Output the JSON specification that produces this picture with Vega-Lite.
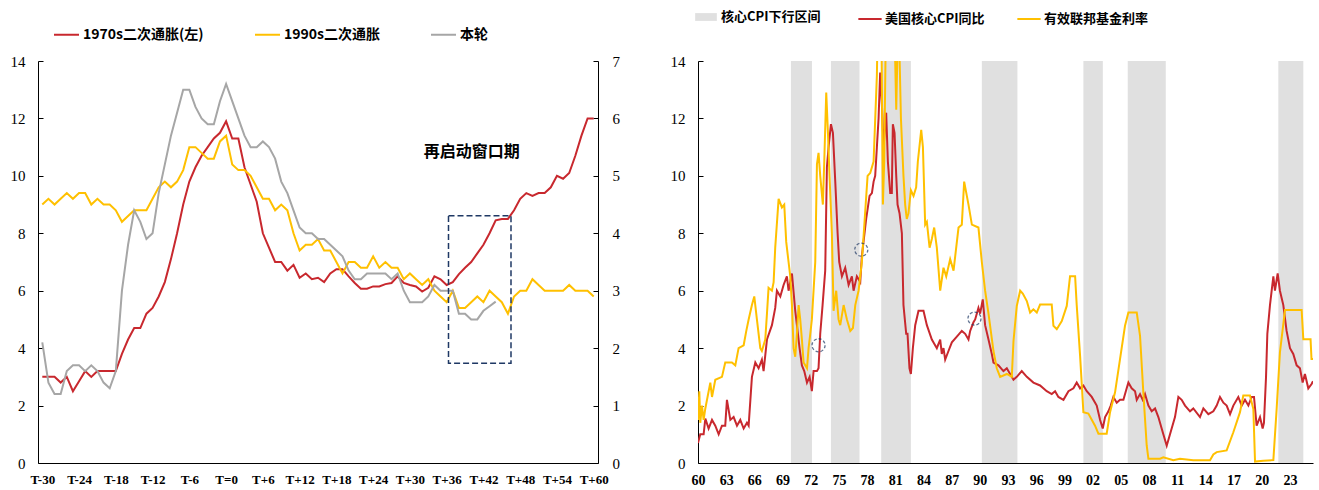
{
  "$schema": "https://vega.github.io/schema/vega-lite/v6.json",
  "background": "white",
  "padding": {"left": 10, "top": 6, "right": 6, "bottom": 2},
  "spacing": 100,
  "bounds": "flush",
  "datasets": {
    "red70": [
      {"t":-30,"v":3.0},{"t":-29,"v":3.0},{"t":-28,"v":3.0},{"t":-27,"v":2.8},{"t":-26,"v":3.0},{"t":-25,"v":2.5},{"t":-24,"v":2.85},{"t":-23,"v":3.2},{"t":-22,"v":3.0},{"t":-21,"v":3.2},
      {"t":-20,"v":3.2},{"t":-19,"v":3.2},{"t":-18,"v":3.2},{"t":-17,"v":3.8},{"t":-16,"v":4.3},{"t":-15,"v":4.7},{"t":-14,"v":4.7},{"t":-13,"v":5.2},{"t":-12,"v":5.4},{"t":-11,"v":5.8},
      {"t":-10,"v":6.3},{"t":-9,"v":7.1},{"t":-8,"v":8.0},{"t":-7,"v":9.0},{"t":-6,"v":9.8},{"t":-5,"v":10.3},{"t":-4,"v":10.7},{"t":-3,"v":11.0},{"t":-2,"v":11.3},{"t":-1,"v":11.5},
      {"t":0,"v":11.9},{"t":1,"v":11.3},{"t":2,"v":11.3},{"t":3,"v":10.3},{"t":4,"v":9.7},{"t":5,"v":9.1},{"t":6,"v":8.0},{"t":7,"v":7.5},{"t":8,"v":7.0},{"t":9,"v":7.0},
      {"t":10,"v":6.7},{"t":11,"v":6.9},{"t":12,"v":6.45},{"t":13,"v":6.6},{"t":14,"v":6.4},{"t":15,"v":6.45},{"t":16,"v":6.3},{"t":17,"v":6.6},{"t":18,"v":6.75},{"t":19,"v":6.75},
      {"t":20,"v":6.5},{"t":21,"v":6.27},{"t":22,"v":6.07},{"t":23,"v":6.07},{"t":24,"v":6.15},{"t":25,"v":6.15},{"t":26,"v":6.23},{"t":27,"v":6.27},{"t":28,"v":6.5},{"t":29,"v":6.27},
      {"t":30,"v":6.2},{"t":31,"v":6.15},{"t":32,"v":5.97},{"t":33,"v":6.1},{"t":34,"v":6.5},{"t":35,"v":6.4},{"t":36,"v":6.2},{"t":37,"v":6.3},{"t":38,"v":6.58},{"t":39,"v":6.8},
      {"t":40,"v":7.0},{"t":41,"v":7.3},{"t":42,"v":7.6},{"t":43,"v":8.0},{"t":44,"v":8.45},{"t":45,"v":8.5},{"t":46,"v":8.5},{"t":47,"v":8.8},{"t":48,"v":9.2},{"t":49,"v":9.4},
      {"t":50,"v":9.3},{"t":51,"v":9.4},{"t":52,"v":9.4},{"t":53,"v":9.6},{"t":54,"v":10.0},{"t":55,"v":9.9},{"t":56,"v":10.1},{"t":57,"v":10.7},{"t":58,"v":11.4},{"t":59,"v":12.0},{"t":60,"v":12.0}
    ],
    "rightAxis": [
      {"s":"1990s二次通胀","t":-30,"v":4.5},{"s":"1990s二次通胀","t":-29,"v":4.6},{"s":"1990s二次通胀","t":-28,"v":4.5},{"s":"1990s二次通胀","t":-27,"v":4.6},{"s":"1990s二次通胀","t":-26,"v":4.7},
      {"s":"1990s二次通胀","t":-25,"v":4.6},{"s":"1990s二次通胀","t":-24,"v":4.7},{"s":"1990s二次通胀","t":-23,"v":4.7},{"s":"1990s二次通胀","t":-22,"v":4.5},{"s":"1990s二次通胀","t":-21,"v":4.6},
      {"s":"1990s二次通胀","t":-20,"v":4.5},{"s":"1990s二次通胀","t":-19,"v":4.5},{"s":"1990s二次通胀","t":-18,"v":4.4},{"s":"1990s二次通胀","t":-17,"v":4.2},{"s":"1990s二次通胀","t":-16,"v":4.3},
      {"s":"1990s二次通胀","t":-15,"v":4.4},{"s":"1990s二次通胀","t":-14,"v":4.4},{"s":"1990s二次通胀","t":-13,"v":4.4},{"s":"1990s二次通胀","t":-12,"v":4.6},{"s":"1990s二次通胀","t":-11,"v":4.8},
      {"s":"1990s二次通胀","t":-10,"v":4.9},{"s":"1990s二次通胀","t":-9,"v":4.8},{"s":"1990s二次通胀","t":-8,"v":4.9},{"s":"1990s二次通胀","t":-7,"v":5.1},{"s":"1990s二次通胀","t":-6,"v":5.5},
      {"s":"1990s二次通胀","t":-5,"v":5.5},{"s":"1990s二次通胀","t":-4,"v":5.4},{"s":"1990s二次通胀","t":-3,"v":5.3},{"s":"1990s二次通胀","t":-2,"v":5.3},{"s":"1990s二次通胀","t":-1,"v":5.6},
      {"s":"1990s二次通胀","t":0,"v":5.7},{"s":"1990s二次通胀","t":1,"v":5.2},{"s":"1990s二次通胀","t":2,"v":5.1},{"s":"1990s二次通胀","t":3,"v":5.1},{"s":"1990s二次通胀","t":4,"v":5.0},
      {"s":"1990s二次通胀","t":5,"v":4.8},{"s":"1990s二次通胀","t":6,"v":4.6},{"s":"1990s二次通胀","t":7,"v":4.6},{"s":"1990s二次通胀","t":8,"v":4.4},{"s":"1990s二次通胀","t":9,"v":4.5},
      {"s":"1990s二次通胀","t":10,"v":4.4},{"s":"1990s二次通胀","t":11,"v":4.0},{"s":"1990s二次通胀","t":12,"v":3.7},{"s":"1990s二次通胀","t":13,"v":3.8},{"s":"1990s二次通胀","t":14,"v":3.8},
      {"s":"1990s二次通胀","t":15,"v":3.9},{"s":"1990s二次通胀","t":16,"v":3.7},{"s":"1990s二次通胀","t":17,"v":3.7},{"s":"1990s二次通胀","t":18,"v":3.5},{"s":"1990s二次通胀","t":19,"v":3.3},
      {"s":"1990s二次通胀","t":20,"v":3.5},{"s":"1990s二次通胀","t":21,"v":3.5},{"s":"1990s二次通胀","t":22,"v":3.4},{"s":"1990s二次通胀","t":23,"v":3.4},{"s":"1990s二次通胀","t":24,"v":3.6},
      {"s":"1990s二次通胀","t":25,"v":3.4},{"s":"1990s二次通胀","t":26,"v":3.5},{"s":"1990s二次通胀","t":27,"v":3.4},{"s":"1990s二次通胀","t":28,"v":3.4},{"s":"1990s二次通胀","t":29,"v":3.2},
      {"s":"1990s二次通胀","t":30,"v":3.3},{"s":"1990s二次通胀","t":31,"v":3.2},{"s":"1990s二次通胀","t":32,"v":3.1},{"s":"1990s二次通胀","t":33,"v":3.2},{"s":"1990s二次通胀","t":34,"v":3.0},
      {"s":"1990s二次通胀","t":35,"v":2.9},{"s":"1990s二次通胀","t":36,"v":2.8},{"s":"1990s二次通胀","t":37,"v":3.0},{"s":"1990s二次通胀","t":38,"v":2.7},{"s":"1990s二次通胀","t":39,"v":2.7},
      {"s":"1990s二次通胀","t":40,"v":2.8},{"s":"1990s二次通胀","t":41,"v":2.9},{"s":"1990s二次通胀","t":42,"v":2.8},{"s":"1990s二次通胀","t":43,"v":3.0},{"s":"1990s二次通胀","t":44,"v":2.9},
      {"s":"1990s二次通胀","t":45,"v":2.8},{"s":"1990s二次通胀","t":46,"v":2.6},{"s":"1990s二次通胀","t":47,"v":2.9},{"s":"1990s二次通胀","t":48,"v":3.0},{"s":"1990s二次通胀","t":49,"v":3.0},
      {"s":"1990s二次通胀","t":50,"v":3.2},{"s":"1990s二次通胀","t":51,"v":3.1},{"s":"1990s二次通胀","t":52,"v":3.0},{"s":"1990s二次通胀","t":53,"v":3.0},{"s":"1990s二次通胀","t":54,"v":3.0},
      {"s":"1990s二次通胀","t":55,"v":3.0},{"s":"1990s二次通胀","t":56,"v":3.1},{"s":"1990s二次通胀","t":57,"v":3.0},{"s":"1990s二次通胀","t":58,"v":3.0},{"s":"1990s二次通胀","t":59,"v":3.0},
      {"s":"1990s二次通胀","t":60,"v":2.9},
      {"s":"本轮","t":-30,"v":2.1},{"s":"本轮","t":-29,"v":1.4},{"s":"本轮","t":-28,"v":1.2},{"s":"本轮","t":-27,"v":1.2},{"s":"本轮","t":-26,"v":1.6},
      {"s":"本轮","t":-25,"v":1.7},{"s":"本轮","t":-24,"v":1.7},{"s":"本轮","t":-23,"v":1.6},{"s":"本轮","t":-22,"v":1.7},{"s":"本轮","t":-21,"v":1.6},
      {"s":"本轮","t":-20,"v":1.4},{"s":"本轮","t":-19,"v":1.3},{"s":"本轮","t":-18,"v":1.6},{"s":"本轮","t":-17,"v":3.0},{"s":"本轮","t":-16,"v":3.8},
      {"s":"本轮","t":-15,"v":4.4},{"s":"本轮","t":-14,"v":4.2},{"s":"本轮","t":-13,"v":3.9},{"s":"本轮","t":-12,"v":4.0},{"s":"本轮","t":-11,"v":4.7},
      {"s":"本轮","t":-10,"v":5.2},{"s":"本轮","t":-9,"v":5.7},{"s":"本轮","t":-8,"v":6.1},{"s":"本轮","t":-7,"v":6.5},{"s":"本轮","t":-6,"v":6.5},
      {"s":"本轮","t":-5,"v":6.2},{"s":"本轮","t":-4,"v":6.0},{"s":"本轮","t":-3,"v":5.9},{"s":"本轮","t":-2,"v":5.9},{"s":"本轮","t":-1,"v":6.3},
      {"s":"本轮","t":0,"v":6.6},{"s":"本轮","t":1,"v":6.3},{"s":"本轮","t":2,"v":6.0},{"s":"本轮","t":3,"v":5.7},{"s":"本轮","t":4,"v":5.5},
      {"s":"本轮","t":5,"v":5.5},{"s":"本轮","t":6,"v":5.6},{"s":"本轮","t":7,"v":5.5},{"s":"本轮","t":8,"v":5.3},{"s":"本轮","t":9,"v":4.9},
      {"s":"本轮","t":10,"v":4.7},{"s":"本轮","t":11,"v":4.4},{"s":"本轮","t":12,"v":4.1},{"s":"本轮","t":13,"v":4.0},{"s":"本轮","t":14,"v":4.0},
      {"s":"本轮","t":15,"v":3.9},{"s":"本轮","t":16,"v":3.9},{"s":"本轮","t":17,"v":3.8},{"s":"本轮","t":18,"v":3.7},{"s":"本轮","t":19,"v":3.6},
      {"s":"本轮","t":20,"v":3.35},{"s":"本轮","t":21,"v":3.2},{"s":"本轮","t":22,"v":3.2},{"s":"本轮","t":23,"v":3.3},{"s":"本轮","t":24,"v":3.3},
      {"s":"本轮","t":25,"v":3.3},{"s":"本轮","t":26,"v":3.3},{"s":"本轮","t":27,"v":3.2},{"s":"本轮","t":28,"v":3.3},{"s":"本轮","t":29,"v":3.0},
      {"s":"本轮","t":30,"v":2.8},{"s":"本轮","t":31,"v":2.8},{"s":"本轮","t":32,"v":2.8},{"s":"本轮","t":33,"v":2.9},{"s":"本轮","t":34,"v":3.1},
      {"s":"本轮","t":35,"v":3.0},{"s":"本轮","t":36,"v":3.0},{"s":"本轮","t":37,"v":3.0},{"s":"本轮","t":38,"v":2.6},{"s":"本轮","t":39,"v":2.6},
      {"s":"本轮","t":40,"v":2.5},{"s":"本轮","t":41,"v":2.5},{"s":"本轮","t":42,"v":2.65},{"s":"本轮","t":43,"v":2.73},{"s":"本轮","t":44,"v":2.81}
    ],
    "cpi": [
      {"t":1960.0,"v":0.7},{"t":1960.24,"v":1.0},{"t":1960.6,"v":1.0},{"t":1960.78,"v":1.55},{"t":1961.13,"v":1.2},{"t":1961.49,"v":1.5},{"t":1961.84,"v":1.3},{"t":1962.2,"v":1.0},{"t":1962.55,"v":1.3},{"t":1962.9,"v":1.3},
      {"t":1963.08,"v":2.2},{"t":1963.44,"v":1.5},{"t":1963.79,"v":1.6},{"t":1964.15,"v":1.3},{"t":1964.5,"v":1.5},{"t":1964.86,"v":1.2},{"t":1965.21,"v":1.4},{"t":1965.39,"v":1.3},{"t":1965.74,"v":3.0},{"t":1966.1,"v":3.5},
      {"t":1966.45,"v":3.3},{"t":1966.8,"v":3.6},{"t":1966.98,"v":3.2},{"t":1967.34,"v":4.3},{"t":1967.87,"v":4.8},{"t":1968.22,"v":5.4},{"t":1968.4,"v":6.0},{"t":1968.76,"v":5.8},{"t":1969.11,"v":6.2},{"t":1969.46,"v":6.5},
      {"t":1969.64,"v":6.0},{"t":1970.0,"v":6.6},{"t":1970.35,"v":5.3},{"t":1970.53,"v":4.8},{"t":1970.81,"v":4.0},{"t":1971.06,"v":3.4},{"t":1971.31,"v":3.2},{"t":1971.6,"v":2.8},{"t":1971.88,"v":3.0},{"t":1972.12,"v":2.5},
      {"t":1972.3,"v":3.2},{"t":1972.66,"v":3.2},{"t":1972.83,"v":3.3},{"t":1973.01,"v":4.5},{"t":1973.26,"v":5.5},{"t":1973.54,"v":6.7},{"t":1973.72,"v":10.3},{"t":1973.9,"v":11.0},{"t":1974.15,"v":11.8},{"t":1974.36,"v":11.5},
      {"t":1974.61,"v":9.8},{"t":1974.86,"v":8.0},{"t":1975.03,"v":7.0},{"t":1975.32,"v":6.5},{"t":1975.67,"v":6.8},{"t":1976.03,"v":6.2},{"t":1976.38,"v":6.5},{"t":1976.56,"v":6.0},{"t":1976.91,"v":6.5},{"t":1977.27,"v":6.3},
      {"t":1977.44,"v":7.2},{"t":1977.9,"v":8.5},{"t":1978.26,"v":9.3},{"t":1978.51,"v":9.4},{"t":1978.69,"v":9.8},{"t":1978.86,"v":10.0},{"t":1979.04,"v":11.0},{"t":1979.22,"v":12.0},{"t":1979.39,"v":13.6},{"t":1979.57,"v":12.5},
      {"t":1979.75,"v":11.0},{"t":1980.03,"v":12.2},{"t":1980.21,"v":10.5},{"t":1980.46,"v":9.4},{"t":1980.63,"v":9.4},{"t":1980.74,"v":11.8},{"t":1980.92,"v":11.5},{"t":1981.1,"v":10.0},{"t":1981.24,"v":9.0},{"t":1981.45,"v":8.7},
      {"t":1981.7,"v":8.0},{"t":1981.87,"v":5.5},{"t":1982.16,"v":4.5},{"t":1982.3,"v":4.5},{"t":1982.51,"v":3.3},{"t":1982.66,"v":3.1},{"t":1982.87,"v":4.0},{"t":1983.12,"v":4.8},{"t":1983.47,"v":5.3},{"t":1984.0,"v":5.3},
      {"t":1984.36,"v":4.8},{"t":1984.89,"v":4.3},{"t":1985.42,"v":4.0},{"t":1985.78,"v":4.3},{"t":1985.95,"v":3.8},{"t":1986.13,"v":4.0},{"t":1986.31,"v":3.6},{"t":1986.66,"v":3.9},{"t":1987.02,"v":4.2},{"t":1987.55,"v":4.4},
      {"t":1988.08,"v":4.6},{"t":1988.44,"v":4.5},{"t":1988.79,"v":4.3},{"t":1988.97,"v":4.6},{"t":1989.32,"v":4.9},{"t":1989.5,"v":5.0},{"t":1989.85,"v":5.4},{"t":1990.03,"v":5.2},{"t":1990.31,"v":5.7},{"t":1990.56,"v":4.8},
      {"t":1990.92,"v":4.3},{"t":1991.27,"v":3.8},{"t":1991.45,"v":3.5},{"t":1991.98,"v":3.4},{"t":1992.51,"v":3.2},{"t":1992.87,"v":3.3},{"t":1993.22,"v":3.1},{"t":1993.58,"v":2.9},{"t":1993.93,"v":3.0},{"t":1994.46,"v":3.2},
      {"t":1995.0,"v":3.0},{"t":1995.7,"v":2.8},{"t":1996.41,"v":2.7},{"t":1997.12,"v":2.5},{"t":1997.65,"v":2.4},{"t":1998.01,"v":2.5},{"t":1998.36,"v":2.3},{"t":1998.9,"v":2.2},{"t":1999.43,"v":2.5},{"t":1999.96,"v":2.6},
      {"t":2000.31,"v":2.8},{"t":2000.67,"v":2.6},{"t":2001.02,"v":2.7},{"t":2001.38,"v":2.5},{"t":2001.91,"v":2.3},{"t":2002.44,"v":2.0},{"t":2002.8,"v":1.5},{"t":2003.08,"v":1.2},{"t":2003.33,"v":1.6},{"t":2003.68,"v":1.8},
      {"t":2003.93,"v":2.0},{"t":2004.21,"v":2.3},{"t":2004.57,"v":2.1},{"t":2004.92,"v":2.2},{"t":2005.28,"v":2.2},{"t":2005.63,"v":2.6},{"t":2005.81,"v":2.8},{"t":2006.16,"v":2.6},{"t":2006.52,"v":2.5},{"t":2006.7,"v":2.2},
      {"t":2007.05,"v":2.4},{"t":2007.33,"v":2.2},{"t":2007.58,"v":2.4},{"t":2007.94,"v":2.0},{"t":2008.29,"v":1.8},{"t":2008.65,"v":1.9},{"t":2009.0,"v":1.6},{"t":2009.53,"v":1.0},{"t":2009.89,"v":0.6},{"t":2010.24,"v":1.0},
      {"t":2010.77,"v":1.6},{"t":2011.13,"v":2.3},{"t":2011.48,"v":2.2},{"t":2011.84,"v":2.0},{"t":2012.37,"v":1.8},{"t":2012.72,"v":1.9},{"t":2013.43,"v":1.6},{"t":2013.79,"v":1.9},{"t":2014.32,"v":1.7},{"t":2014.85,"v":1.8},
      {"t":2015.21,"v":2.0},{"t":2015.56,"v":2.3},{"t":2015.92,"v":2.1},{"t":2016.27,"v":2.0},{"t":2016.63,"v":1.7},{"t":2016.98,"v":2.0},{"t":2017.51,"v":2.3},{"t":2017.87,"v":2.0},{"t":2018.22,"v":2.2},{"t":2018.58,"v":2.0},
      {"t":2018.93,"v":2.3},{"t":2019.18,"v":2.3},{"t":2019.46,"v":1.3},{"t":2019.82,"v":1.6},{"t":2020.1,"v":1.2},{"t":2020.24,"v":1.4},{"t":2020.46,"v":3.0},{"t":2020.6,"v":4.5},{"t":2020.88,"v":5.5},{"t":2021.24,"v":6.5},
      {"t":2021.41,"v":6.0},{"t":2021.7,"v":6.6},{"t":2021.94,"v":6.0},{"t":2022.3,"v":5.5},{"t":2022.65,"v":4.6},{"t":2023.01,"v":4.0},{"t":2023.36,"v":3.8},{"t":2023.72,"v":3.4},{"t":2024.07,"v":3.3},{"t":2024.36,"v":2.8},
      {"t":2024.6,"v":3.1},{"t":2024.96,"v":2.6},{"t":2025.31,"v":2.75},{"t":2025.46,"v":2.85}
    ],
    "ffr": [
      {"t":1960.0,"v":1.5},{"t":1960.14,"v":2.5},{"t":1960.24,"v":1.4},{"t":1960.42,"v":2.0},{"t":1960.6,"v":1.5},{"t":1960.78,"v":1.9},{"t":1961.31,"v":2.8},{"t":1961.49,"v":2.3},{"t":1961.84,"v":2.9},{"t":1962.55,"v":3.0},
      {"t":1962.9,"v":3.5},{"t":1963.61,"v":3.5},{"t":1963.97,"v":3.4},{"t":1964.32,"v":4.0},{"t":1964.86,"v":4.1},{"t":1965.14,"v":4.6},{"t":1965.39,"v":5.0},{"t":1965.74,"v":5.5},{"t":1965.99,"v":5.8},{"t":1966.27,"v":5.0},
      {"t":1966.63,"v":4.0},{"t":1966.8,"v":3.9},{"t":1967.16,"v":4.3},{"t":1967.34,"v":5.2},{"t":1967.51,"v":6.1},{"t":1967.87,"v":6.0},{"t":1968.05,"v":6.3},{"t":1968.22,"v":7.5},{"t":1968.58,"v":9.2},{"t":1968.93,"v":8.9},
      {"t":1969.18,"v":9.0},{"t":1969.39,"v":7.7},{"t":1969.64,"v":7.0},{"t":1969.82,"v":6.5},{"t":1970.0,"v":5.5},{"t":1970.17,"v":4.0},{"t":1970.35,"v":3.7},{"t":1970.53,"v":4.5},{"t":1970.71,"v":5.5},{"t":1970.88,"v":5.0},
      {"t":1971.06,"v":4.3},{"t":1971.24,"v":3.5},{"t":1971.6,"v":3.3},{"t":1971.77,"v":4.0},{"t":1971.95,"v":4.5},{"t":1972.12,"v":5.0},{"t":1972.48,"v":7.0},{"t":1972.66,"v":10.4},{"t":1972.83,"v":10.8},{"t":1973.01,"v":10.0},
      {"t":1973.29,"v":9.0},{"t":1973.44,"v":10.5},{"t":1973.65,"v":12.9},{"t":1973.83,"v":11.5},{"t":1974.0,"v":10.0},{"t":1974.25,"v":8.0},{"t":1974.43,"v":5.3},{"t":1974.71,"v":6.0},{"t":1974.96,"v":5.0},{"t":1975.14,"v":4.8},
      {"t":1975.5,"v":5.5},{"t":1975.85,"v":5.0},{"t":1976.21,"v":4.6},{"t":1976.49,"v":4.7},{"t":1976.74,"v":5.5},{"t":1977.09,"v":6.0},{"t":1977.44,"v":7.0},{"t":1978.05,"v":10.0},{"t":1978.33,"v":10.1},{"t":1978.69,"v":10.5},
      {"t":1979.04,"v":13.5},{"t":1979.22,"v":17.0},{"t":1979.46,"v":17.5},{"t":1979.68,"v":9.0},{"t":1979.82,"v":10.5},{"t":1980.03,"v":16.0},{"t":1980.28,"v":19.0},{"t":1980.63,"v":18.0},{"t":1980.89,"v":15.5},{"t":1981.1,"v":12.3},
      {"t":1981.24,"v":14.5},{"t":1981.45,"v":14.2},{"t":1981.6,"v":12.0},{"t":1981.87,"v":10.0},{"t":1982.05,"v":9.0},{"t":1982.22,"v":8.5},{"t":1982.4,"v":8.7},{"t":1982.66,"v":9.5},{"t":1982.94,"v":9.3},{"t":1983.22,"v":9.6},
      {"t":1983.4,"v":10.5},{"t":1983.76,"v":11.6},{"t":1983.94,"v":11.0},{"t":1984.18,"v":8.3},{"t":1984.36,"v":8.4},{"t":1984.65,"v":7.5},{"t":1984.89,"v":7.8},{"t":1985.14,"v":8.2},{"t":1985.42,"v":7.5},{"t":1985.78,"v":6.0},
      {"t":1986.13,"v":6.8},{"t":1986.42,"v":6.5},{"t":1986.84,"v":7.1},{"t":1987.2,"v":6.7},{"t":1987.73,"v":8.2},{"t":1988.08,"v":8.3},{"t":1988.33,"v":9.8},{"t":1988.79,"v":9.0},{"t":1989.15,"v":8.3},{"t":1989.85,"v":8.2},
      {"t":1990.21,"v":7.0},{"t":1990.56,"v":6.0},{"t":1990.92,"v":5.2},{"t":1991.45,"v":3.9},{"t":1991.8,"v":3.3},{"t":1992.16,"v":3.0},{"t":1992.87,"v":3.1},{"t":1993.4,"v":3.0},{"t":1993.58,"v":4.25},{"t":1993.93,"v":5.47},
      {"t":1994.29,"v":6.0},{"t":1994.57,"v":5.9},{"t":1995.0,"v":5.64},{"t":1995.35,"v":5.24},{"t":1995.7,"v":5.35},{"t":1996.06,"v":5.24},{"t":1996.41,"v":5.52},{"t":1997.65,"v":5.52},{"t":1997.83,"v":4.78},{"t":1998.19,"v":4.66},
      {"t":1998.72,"v":4.94},{"t":1999.25,"v":5.47},{"t":1999.6,"v":6.5},{"t":2000.14,"v":6.5},{"t":2000.31,"v":5.5},{"t":2000.67,"v":3.73},{"t":2001.02,"v":1.77},{"t":2001.55,"v":1.72},{"t":2002.26,"v":1.3},{"t":2002.62,"v":1.02},
      {"t":2003.5,"v":1.02},{"t":2003.86,"v":1.77},{"t":2004.39,"v":2.46},{"t":2004.92,"v":3.62},{"t":2005.45,"v":4.78},{"t":2005.81,"v":5.24},{"t":2006.7,"v":5.24},{"t":2007.05,"v":4.43},{"t":2007.4,"v":2.46},{"t":2007.76,"v":0.61},
      {"t":2007.94,"v":0.15},{"t":2009.18,"v":0.15},{"t":2009.53,"v":0.2},{"t":2010.6,"v":0.1},{"t":2011.3,"v":0.15},{"t":2012.72,"v":0.1},{"t":2014.5,"v":0.1},{"t":2014.85,"v":0.3},{"t":2015.21,"v":0.38},{"t":2016.27,"v":0.44},
      {"t":2016.98,"v":1.07},{"t":2017.69,"v":1.77},{"t":2018.04,"v":2.35},{"t":2018.75,"v":2.35},{"t":2019.11,"v":1.88},{"t":2019.29,"v":0.05},{"t":2020.17,"v":0.08},{"t":2021.24,"v":0.1},{"t":2021.59,"v":1.88},{"t":2021.94,"v":3.85},
      {"t":2022.48,"v":5.33},{"t":2024.25,"v":5.33},{"t":2024.43,"v":4.31},{"t":2025.2,"v":4.31},{"t":2025.3,"v":3.62},{"t":2025.46,"v":3.62}
    ]
  },
  "hconcat": [
    {
      "width": 560,
      "height": 402,
      "layer": [
        {
          "data": {"name": "red70"},
          "transform": [{"calculate": "'1970s二次通胀(左)'", "as": "s"}],
          "mark": {"type": "line", "strokeWidth": 2},
          "encoding": {
            "x": {"field": "t", "type": "quantitative",
                  "scale": {"domain": [-30.7, 60.7], "nice": false, "zero": false},
                  "axis": {"values": [-30,-24,-18,-12,-6,0,6,12,18,24,30,36,42,48,54,60], "tickCount": 40, "ticks": false,
                           "labelExpr": "datum.value == 0 ? 'T=0' : (datum.value > 0 ? 'T+' + datum.value : 'T' + datum.value)",
                           "labelFontWeight": "bold", "labelFontSize": 13, "labelPadding": 10, "labelFlush": false, "labelOverlap": false}},
            "y": {"field": "v", "type": "quantitative",
                  "scale": {"domain": [0, 14], "nice": false},
                  "axis": {"orient": "left", "values": [0,2,4,6,8,10,12,14], "tickCount": 20, "format": "d"}},
            "color": {"field": "s", "type": "nominal",
                      "scale": {"domain": ["1970s二次通胀(左)", "1990s二次通胀", "本轮"], "range": ["#C8282E", "#FFC000", "#A6A6A6"]},
                      "legend": {"orient": "none", "legendX": 15, "legendY": -40, "direction": "horizontal",
                                 "title": null, "symbolType": "stroke", "symbolSize": 625, "symbolStrokeWidth": 2,
                                 "labelFont": "Noto Sans CJK SC", "labelFontWeight": "bold", "labelFontSize": 14,
                                 "labelColor": "#000", "labelOffset": 3, "columnPadding": 47, "padding": 0}}
          }
        },
        {
          "data": {"name": "rightAxis"},
          "mark": {"type": "line", "strokeWidth": 2},
          "encoding": {
            "x": {"field": "t", "type": "quantitative"},
            "y": {"field": "v", "type": "quantitative",
                  "scale": {"domain": [0, 7], "nice": false},
                  "axis": {"orient": "right", "values": [0,1,2,3,4,5,6,7], "tickCount": 20, "format": "d", "labelPadding": 19}},
            "color": {"field": "s", "type": "nominal"}
          }
        },
        {
          "data": {"values": [{"a": 36.3, "b": 46.5, "lo": 3.47, "hi": 8.61}]},
          "mark": {"type": "rect", "filled": false, "stroke": "#1F3864", "strokeWidth": 1.5, "strokeDash": [6, 3]},
          "encoding": {
            "x": {"field": "a", "type": "quantitative"},
            "x2": {"field": "b"},
            "y": {"field": "lo", "type": "quantitative", "scale": {"domain": [0, 14], "nice": false}, "axis": null},
            "y2": {"field": "hi"}
          }
        },
        {
          "data": {"values": [{"label": "再启动窗口期", "t": 40.1, "v": 10.83}]},
          "mark": {"type": "text", "font": "Noto Sans CJK SC", "fontWeight": "bold", "fontSize": 16, "color": "#000"},
          "encoding": {
            "x": {"field": "t", "type": "quantitative"},
            "y": {"field": "v", "type": "quantitative", "scale": {"domain": [0, 14], "nice": false}, "axis": null},
            "text": {"field": "label"}
          }
        }
      ],
      "resolve": {"scale": {"y": "independent"}}
    },
    {
      "width": 615,
      "height": 402,
      "layer": [
        {
          "data": {"values": [
            {"s": "核心CPI下行区间", "a": 1969.89, "b": 1972.13},
            {"s": "核心CPI下行区间", "a": 1974.15, "b": 1977.19},
            {"s": "核心CPI下行区间", "a": 1979.5, "b": 1982.66},
            {"s": "核心CPI下行区间", "a": 1990.21, "b": 1994.0},
            {"s": "核心CPI下行区间", "a": 2001.02, "b": 2003.09},
            {"s": "核心CPI下行区间", "a": 2005.74, "b": 2009.79},
            {"s": "核心CPI下行区间", "a": 2021.77, "b": 2024.43}
          ]},
          "mark": {"type": "rect"},
          "encoding": {
            "x": {"field": "a", "type": "quantitative",
                  "scale": {"domain": [1960, 2025.46], "nice": false, "zero": false},
                  "axis": {"values": [1960,1963,1966,1969,1972,1975,1978,1981,1984,1987,1990,1993,1996,1999,2002,2005,2008,2011,2014,2017,2020,2023],
                           "tickCount": 50, "ticks": false, "labelExpr": "slice('0' + (datum.value % 100), -2)",
                           "labelFontWeight": "bold", "labelFontSize": 14, "labelPadding": 10, "labelFlush": false, "labelOverlap": false}},
            "x2": {"field": "b"},
            "fill": {"field": "s", "type": "nominal", "scale": {"range": ["#E0E0E0"]},
                     "legend": {"orient": "none", "legendX": 657, "legendY": -55, "direction": "horizontal", "title": null,
                                "symbolType": "M-1,-0.36H1V0.36H-1Z", "symbolSize": 470, "symbolStrokeWidth": 0,
                                "labelFont": "Noto Sans CJK SC", "labelFontWeight": "bold", "labelFontSize": 13,
                                "labelColor": "#000", "labelOffset": 4, "padding": 0}}
          }
        },
        {
          "data": {"name": "cpi"},
          "transform": [{"calculate": "'美国核心CPI同比'", "as": "s"}],
          "mark": {"type": "line", "strokeWidth": 2, "clip": true},
          "encoding": {
            "x": {"field": "t", "type": "quantitative"},
            "y": {"field": "v", "type": "quantitative",
                  "scale": {"domain": [0, 14], "nice": false},
                  "axis": {"values": [0,2,4,6,8,10,12,14], "tickCount": 20, "format": "d"}},
            "stroke": {"field": "s", "type": "nominal",
                       "scale": {"domain": ["美国核心CPI同比", "有效联邦基金利率"], "range": ["#C8282E", "#FFC000"]},
                       "legend": {"orient": "none", "legendX": 819, "legendY": -55, "direction": "horizontal", "title": null,
                                  "symbolType": "stroke", "symbolSize": 543, "symbolStrokeWidth": 2,
                                  "labelFont": "Noto Sans CJK SC", "labelFontWeight": "bold", "labelFontSize": 13,
                                  "labelColor": "#000", "labelOffset": 2, "columnPadding": 28, "padding": 0}}
          }
        },
        {
          "data": {"name": "ffr"},
          "transform": [{"calculate": "'有效联邦基金利率'", "as": "s"}],
          "mark": {"type": "line", "strokeWidth": 2, "clip": true},
          "encoding": {
            "x": {"field": "t", "type": "quantitative"},
            "y": {"field": "v", "type": "quantitative"},
            "stroke": {"field": "s", "type": "nominal"}
          }
        },
        {
          "data": {"values": [{"t": 1972.83, "v": 4.1}, {"t": 1977.38, "v": 7.43}, {"t": 1989.43, "v": 5.03}]},
          "mark": {"type": "point", "shape": "circle", "filled": false, "size": 170, "stroke": "#1F3864", "strokeWidth": 1.3, "strokeDash": [3, 2]},
          "encoding": {
            "x": {"field": "t", "type": "quantitative"},
            "y": {"field": "v", "type": "quantitative"}
          }
        }
      ]
    }
  ],
  "config": {
    "view": {"stroke": null},
    "font": "Noto Sans CJK SC",
    "axis": {"grid": false, "domainColor": "#000", "domainWidth": 1, "tickColor": "#000", "tickWidth": 1,
             "labelColor": "#000", "labelFont": "Liberation Serif", "labelFontSize": 15,
             "tickSize": -5, "labelPadding": 18, "title": null}
  }
}
